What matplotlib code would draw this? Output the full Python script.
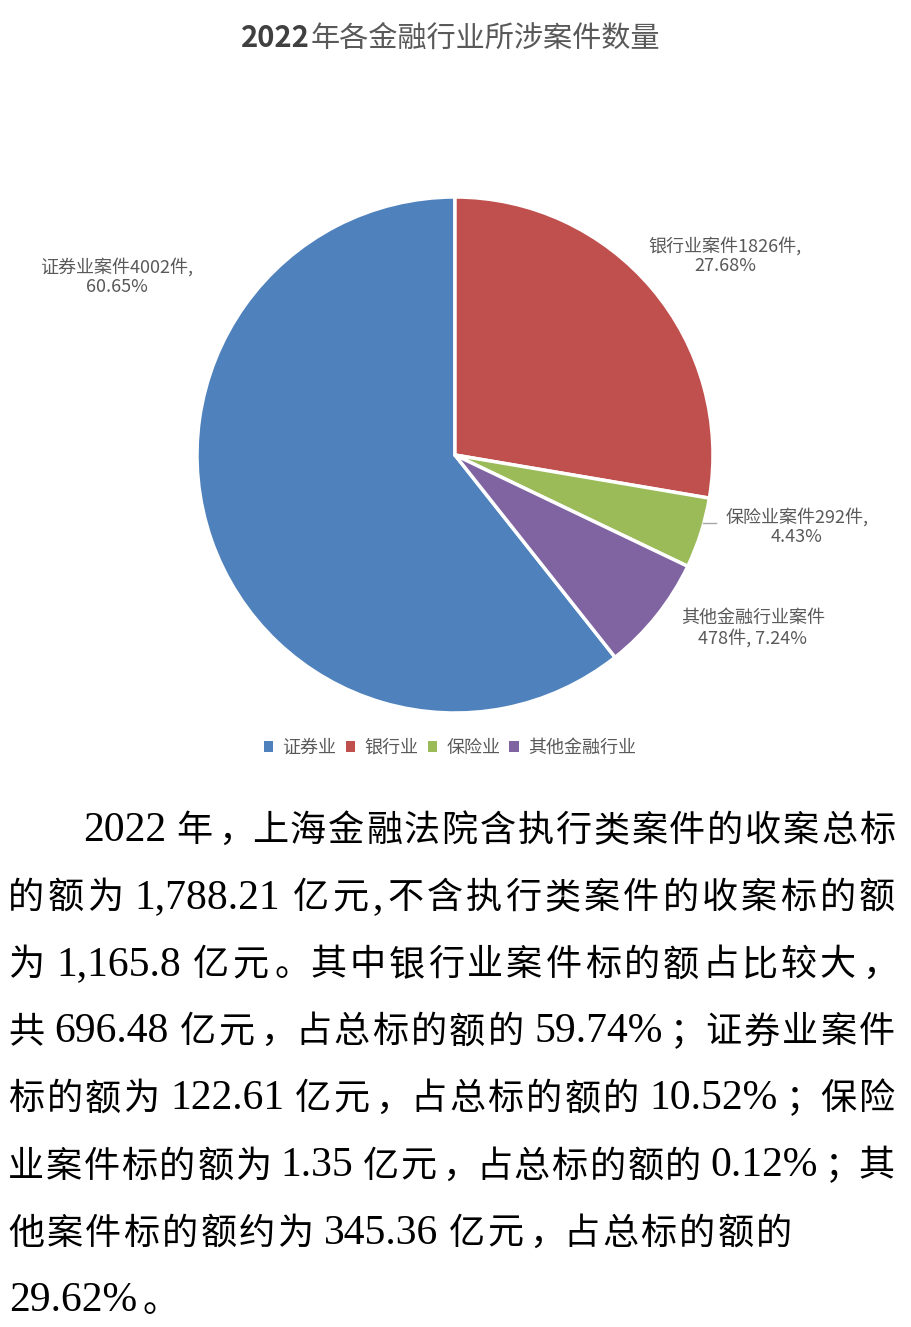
import re
import matplotlib
matplotlib.use('Agg')
import matplotlib.pyplot as plt
from matplotlib.patches import Patch
from matplotlib.lines import Line2D

# data
categories = ['证券业', '银行业', '保险业', '其他金融行业']
case_counts = [4002, 1826, 292, 478]
pct_labels = ['60.65%', '27.68%', '4.43%', '7.24%']
colors = ['#4F81BD', '#C0504D', '#9BBB59', '#8064A2']

title_year = '2022'
title_rest = '年各金融行业所涉案件数量'

body_lines = [
    '2022 年，上海金融法院含执行类案件的收案总标',
    '的额为 1,788.21 亿元,不含执行类案件的收案标的额',
    '为 1,165.8 亿元。其中银行业案件标的额占比较大，',
    '共 696.48 亿元，占总标的额的 59.74%；证券业案件',
    '标的额为 122.61 亿元，占总标的额的 10.52%；保险',
    '业案件标的额为 1.35 亿元，占总标的额的 0.12%；其',
    '他案件标的额约为 345.36 亿元，占总标的额的',
    '29.62%。',
]

CJK = ['Noto Sans CJK SC', 'DejaVu Sans']
W, H = 912, 1327
fig = plt.figure(figsize=(W / 100, H / 100), dpi=100)
renderer = fig.canvas.get_renderer()


def fx(x):
    return x / W


def fy(y):
    return 1 - y / H


# title: bold year, lighter chinese part
t1 = fig.text(0, 0, title_year, fontsize=21, fontweight='bold', family=CJK)
t2 = fig.text(0, 0, title_rest, fontsize=21, family=CJK)
w1 = t1.get_window_extent(renderer).width
w2 = t2.get_window_extent(renderer).width
t1.remove()
t2.remove()
tx = 450 - (w1 + w2) / 2
fig.text(fx(tx), fy(47), title_year, ha='left', va='baseline', fontsize=21,
         fontweight='bold', color='#404040', family=CJK)
fig.text(fx(tx + w1 + 1), fy(47), title_rest, ha='left', va='baseline',
         fontsize=21, color='#595959', family=CJK)

# pie
cx, cy, r = 455, 455, 258
ax = fig.add_axes([fx(cx - r), fy(cy + r), 2 * r / W, 2 * r / H])
total = sum(case_counts)
start = 90 + 360 * case_counts[0] / total - 360
ax.pie(case_counts, colors=colors, startangle=start, counterclock=False,
       wedgeprops=dict(edgecolor='white', linewidth=2.5))
ax.set_xlim(-1, 1)
ax.set_ylim(-1, 1)
ax.set_aspect('equal')
ax.axis('off')

# data labels
label_text = [
    f'{categories[0]}案件{case_counts[0]}件,\n{pct_labels[0]}',
    f'{categories[1]}案件{case_counts[1]}件,\n{pct_labels[1]}',
    f'{categories[2]}案件{case_counts[2]}件,\n{pct_labels[2]}',
    f'{categories[3]}案件\n{case_counts[3]}件, {pct_labels[3]}',
]
label_pos = [(117, 277), (725, 256), (797, 527), (753, 628)]
for txt, (lx, ly) in zip(label_text, label_pos):
    fig.text(fx(lx), fy(ly), txt, ha='center', va='center', fontsize=13,
             color='#595959', family=CJK, linespacing=1.15)
fig.add_artist(Line2D([fx(703), fx(716)], [fy(523), fy(523)],
                      color='#A6A6A6', lw=1))

# legend
handles = [Patch(facecolor=c, edgecolor='none') for c in colors]
fig.legend(handles, categories, loc='center', bbox_to_anchor=(fx(450), fy(748)),
           ncol=4, frameon=False, handlelength=0.5, handleheight=0.5,
           handletextpad=0.55, columnspacing=0.5, labelcolor='#595959',
           prop={'family': CJK, 'size': 13})

# body paragraph, laid out char by char so lines can be justified
em_pt = 26
em = em_pt * 100 / 72
digit_pt = 30
punct = '，；。'


def draw_line(line, x0, x1, base):
    tokens = re.findall(r'[0-9.,%]+| |.', line)
    widths = []
    for tk in tokens:
        if tk == ' ':
            widths.append(0.12 * em)
        elif re.fullmatch(r'[0-9.,%]+', tk):
            t = fig.text(0, 0, tk, fontsize=digit_pt, family='Liberation Serif')
            widths.append(t.get_window_extent(renderer).width + 3)
            t.remove()
        else:
            widths.append(em)
    extra = 0
    if x1 is not None:
        extra = (x1 - x0 - sum(widths)) / (len(tokens) - 1)
    x = x0
    for tk, w in zip(tokens, widths):
        if tk == ' ':
            pass
        elif re.fullmatch(r'[0-9.,%]+', tk):
            fig.text(fx(x + 1.5), fy(base), tk, ha='left', va='baseline',
                     fontsize=digit_pt, family='Liberation Serif', color='black')
        elif tk in punct:
            fig.text(fx(x + 0.1 * em), fy(base), tk, ha='left', va='baseline',
                     fontsize=em_pt, family=CJK, color='black')
        else:
            fig.text(fx(x + w / 2), fy(base), tk, ha='center', va='baseline',
                     fontsize=em_pt, family=CJK, color='black')
        x += w + extra


line_starts = [82, 8, 8, 8, 8, 8, 8, 8]
line_ends = [895, 895, 895, 895, 895, 895, 792, None]
for i, line in enumerate(body_lines):
    base = 828 + 67.1 * i + 13
    draw_line(line, line_starts[i], line_ends[i], base)

fig.savefig('out.png', dpi=100)
